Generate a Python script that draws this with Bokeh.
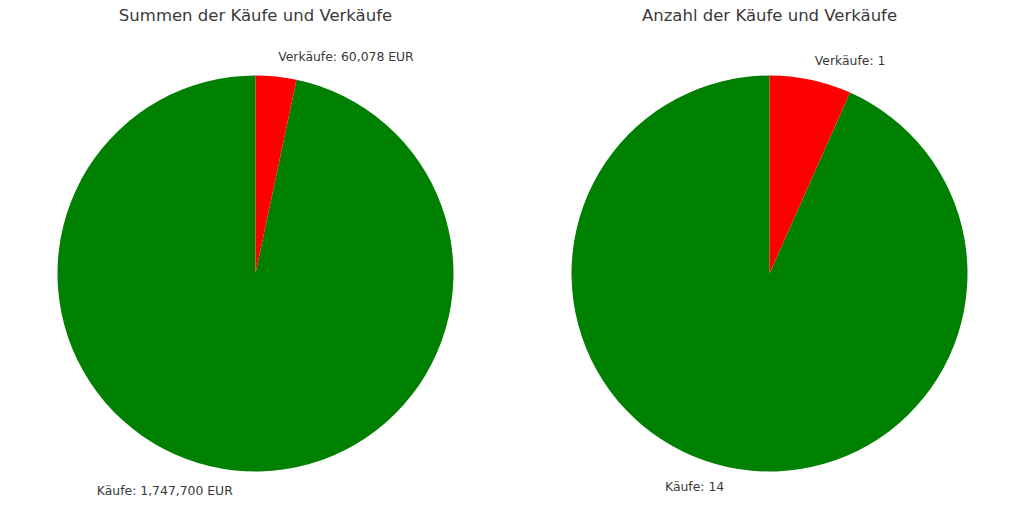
import math
from bokeh.plotting import figure
from bokeh.models import Range1d, ColumnDataSource
from bokeh.core.properties import value
from bokeh.embed import file_html
from bokeh.resources import INLINE

# Data
categories = ["Käufe", "Verkäufe"]
colors = ["#008000", "#ff0000"]
sum_values = [1747700, 60078]
count_values = [14, 1]
titles = ["Summen der Käufe und Verkäufe", "Anzahl der Käufe und Verkäufe"]

W, H = 1024, 529
FONT = value("DejaVu Sans")
TEXT_COLOR = "#3a3a3a"

p = figure(width=W, height=H, x_range=Range1d(0, W), y_range=Range1d(0, H),
           output_backend="svg", toolbar_location=None, min_border=0)
p.axis.visible = False
p.grid.visible = False
p.outline_line_color = None
p.background_fill_color = "white"
p.border_fill_color = "white"

R = 198
centers = [(255, H - 273), (769, H - 273)]


def draw_pie(cx, cy, vals, fmt, title):
    total = sum(vals)
    start = 90.0
    wedges = dict(start=[], end=[], color=[])
    lab = dict(x=[], y=[], text=[], align=[])
    for cat, v, c in zip(categories, vals, colors):
        sweep = 360.0 * v / total
        a0, a1 = start, start + sweep
        wedges["start"].append(math.radians(a0))
        wedges["end"].append(math.radians(a1))
        wedges["color"].append(c)
        mid = math.radians((a0 + a1) / 2)
        lx = cx + 1.1 * R * math.cos(mid)
        ly = cy + 1.1 * R * math.sin(mid)
        lab["x"].append(lx)
        lab["y"].append(ly)
        lab["text"].append(f"{cat}: {fmt(v)}")
        lab["align"].append("left" if lx > cx else "right")
        start = a1
    src = ColumnDataSource(wedges)
    p.wedge(x=cx, y=cy, radius=R, start_angle="start", end_angle="end",
            direction="anticlock", fill_color="color", line_color=None, source=src)
    p.text(x="x", y="y", text="text", text_align="align", text_baseline="middle",
           text_font=FONT, text_font_size="12.4px", text_color=TEXT_COLOR,
           source=ColumnDataSource(lab))
    p.text(x=[cx], y=[H - 15], text=[title], text_align="center", text_baseline="middle",
           text_font=FONT, text_font_size="16.5px", text_color=TEXT_COLOR)


draw_pie(*centers[0], sum_values, lambda v: f"{v:,} EUR", titles[0])
draw_pie(*centers[1], count_values, lambda v: f"{v}", titles[1])

open("out.html", "w").write(file_html(p, INLINE))
